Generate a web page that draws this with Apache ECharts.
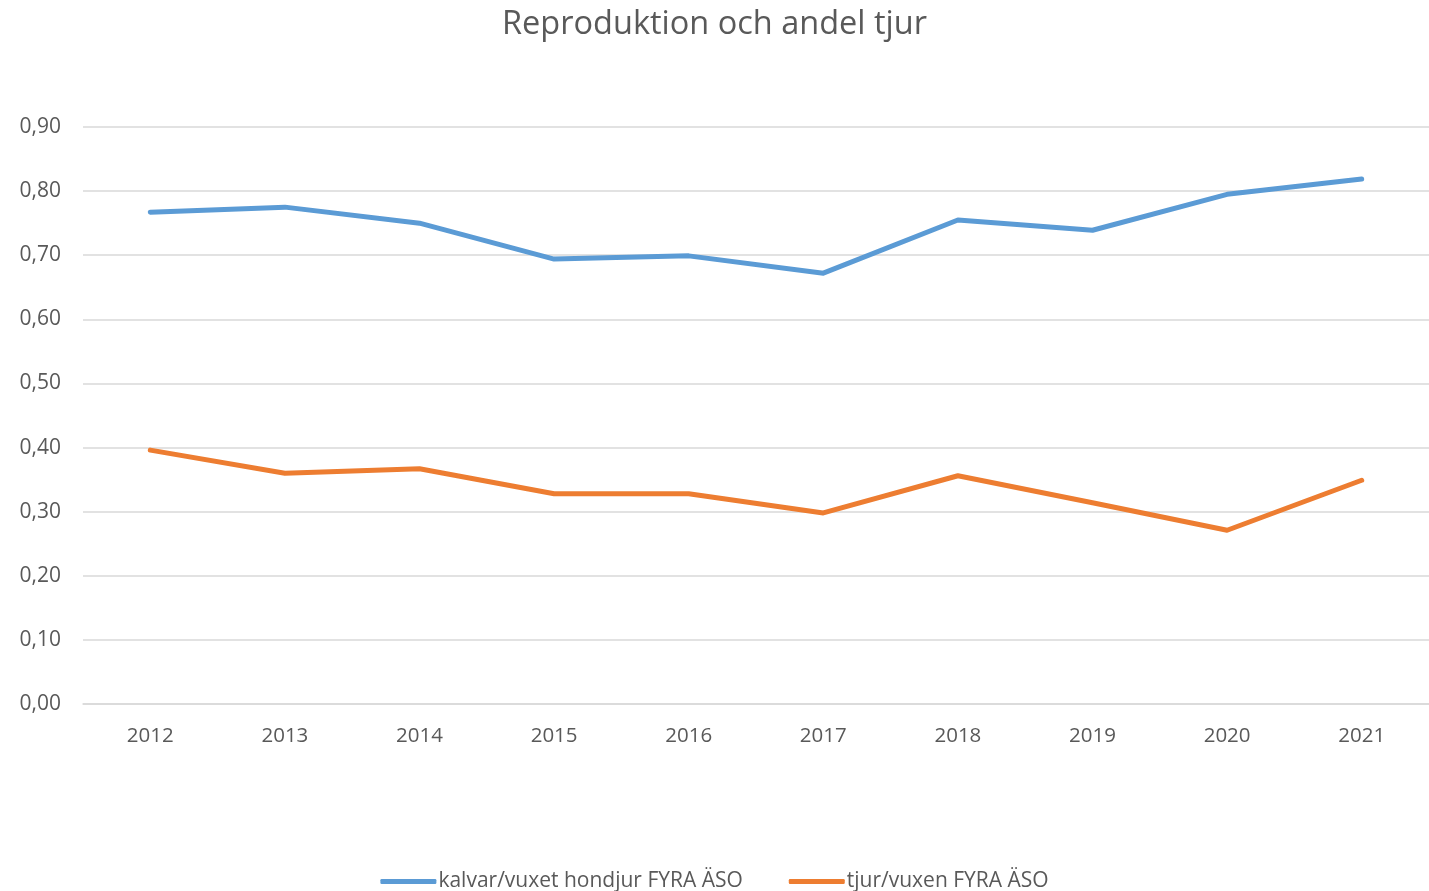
<!DOCTYPE html>
<html>
<head>
<meta charset="utf-8">
<title>Reproduktion och andel tjur</title>
<script src="https://cdn.jsdelivr.net/npm/echarts@6/dist/echarts.min.js"></script>
<style>
  html, body { margin: 0; padding: 0; background: #fff; }
  #chart { width: 1429px; height: 891px; }
</style>
</head>
<body>
<div id="chart"></div>
<script>
// årtal på x-axeln
const years = ["2012", "2013", "2014", "2015", "2016", "2017", "2018", "2019", "2020", "2021"];
// kalvar per vuxet hondjur
const kalvar = [0.767, 0.775, 0.750, 0.694, 0.699, 0.672, 0.755, 0.739, 0.795, 0.819];
// tjur per vuxen
const tjur = [0.396, 0.360, 0.367, 0.328, 0.328, 0.298, 0.356, 0.314, 0.271, 0.349];
const seriesNames = ["kalvar/vuxet hondjur FYRA ÄSO", "tjur/vuxen FYRA ÄSO"];

const font = "'Open Sans', 'Noto Sans', sans-serif";
const chart = echarts.init(document.getElementById("chart"));

function lineSeries(name, data, color) {
  return {
    name: name,
    type: "line",
    data: data,
    symbol: "none",
    smooth: false,
    lineStyle: { color: color, width: 5, cap: "round", join: "round" },
    itemStyle: { color: color },
    animation: false
  };
}

chart.setOption({
  animation: false,
  title: {
    text: "Reproduktion och andel tjur",
    left: "center",
    top: 3,
    textStyle: { fontFamily: font, fontSize: 32.5, fontWeight: "normal", color: "#595959" }
  },
  legend: {
    bottom: -6,
    left: "center",
    itemWidth: 56,
    itemHeight: 5,
    itemGap: 46,
    icon: "roundRect",
    textStyle: { fontFamily: font, fontSize: 21, color: "#595959", padding: [0, 0, 0, -3] },
    data: seriesNames
  },
  grid: { left: 83, right: 0, top: 127, bottom: 187 },
  xAxis: {
    type: "category",
    data: years,
    boundaryGap: true,
    axisLine: { show: true, lineStyle: { color: "#d9d9d9", width: 1.5 } },
    axisTick: { show: false },
    axisLabel: { fontFamily: font, fontSize: 20.5, color: "#595959", margin: 22 }
  },
  yAxis: {
    type: "value",
    min: 0,
    max: 0.9,
    interval: 0.1,
    axisLine: { show: false },
    axisTick: { show: false },
    splitLine: { lineStyle: { color: "#d9d9d9", width: 1.5 } },
    axisLabel: {
      fontFamily: font,
      fontSize: 21,
      color: "#595959",
      margin: 22,
      formatter: v => v.toFixed(2).replace(".", ",")
    }
  },
  series: [
    lineSeries(seriesNames[0], kalvar, "#5b9bd5"),
    lineSeries(seriesNames[1], tjur, "#ed7d31")
  ]
});
</script>
</body>
</html>
